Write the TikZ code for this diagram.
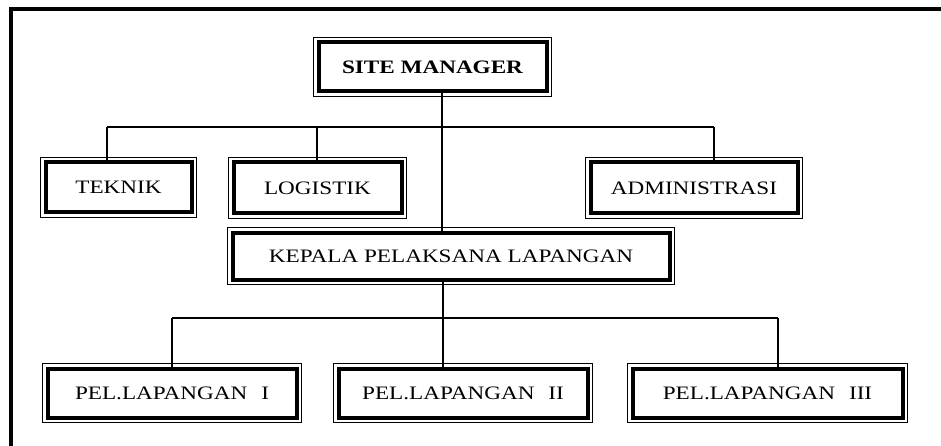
\documentclass[tikz,border=0pt]{standalone}
\usepackage{fontspec}
\usepackage{graphicx}
\setmainfont{Liberation Serif}
\newcommand\widetext[1]{\scalebox{1.22}[1]{#1}}
\begin{document}
\begin{tikzpicture}[x=1pt,y=-1pt,
  box/.style={draw, line width=4pt, rectangle, inner sep=0pt,
    font=\fontsize{19}{19}\selectfont},
  rim/.style={line width=1.2pt},
  link/.style={line width=1.5pt},
  edge/.style={line width=4pt, line join=miter}]
\useasboundingbox (0,0) rectangle (941,446);

% page frame: top and left rules only
\draw[edge] (10.5,446) -- (10.5,9) -- (941,9);

% boxes (thick inner border)
\node[box, minimum width=228pt, minimum height=49pt] (sm)  at (432.5,67)  {\widetext{\bfseries SITE MANAGER}};
\node[box, minimum width=146pt, minimum height=50pt] (tek) at (118.5,187.5) {\widetext{TEKNIK}};
\node[box, minimum width=168pt, minimum height=51pt] (log) at (317.5,188)  {\widetext{LOGISTIK}};
\node[box, minimum width=207pt, minimum height=51pt] (adm) at (694,188)    {\widetext{ADMINISTRASI}};
\node[box, minimum width=437pt, minimum height=47pt] (kep) at (451,256)    {\widetext{KEPALA PELAKSANA LAPANGAN}};
\node[box, minimum width=249pt, minimum height=49pt] (p1)  at (172,393)    {\widetext{PEL.LAPANGAN\hspace{0.6em}I}};
\node[box, minimum width=249pt, minimum height=49pt] (p2)  at (463,393)    {\widetext{PEL.LAPANGAN\hspace{0.6em}II}};
\node[box, minimum width=270pt, minimum height=49pt] (p3)  at (767.5,393)  {\widetext{PEL.LAPANGAN\hspace{0.6em}III}};

% thin outer border of each box
\foreach \n in {sm,tek,log,adm,kep,p1,p2,p3}
  \draw[rim] ([shift={(-3pt,3pt)}]\n.north west) rectangle ([shift={(3pt,-3pt)}]\n.south east);

% connector junctions
\coordinate (spine) at (442,127);
\coordinate (ut) at (107,127);
\coordinate (ul) at (317,127);
\coordinate (ua) at (714,127);
\coordinate (l1) at (172,318);
\coordinate (l2) at (443,318);
\coordinate (l3) at (778,318);

% upper level
\draw[link] (ut) -- (ua);
\draw[link] (sm.south -| spine) -- (kep.north -| spine);
\draw[link] (ut) -- (tek.north -| ut);
\draw[link] (ul) -- (log.north -| ul);
\draw[link] (ua) -- (adm.north -| ua);

% lower level
\draw[link] (l1) -- (l3);
\draw[link] (kep.south -| l2) -- (p2.north -| l2);
\draw[link] (l1) -- (p1.north -| l1);
\draw[link] (l3) -- (p3.north -| l3);
\end{tikzpicture}
\end{document}
